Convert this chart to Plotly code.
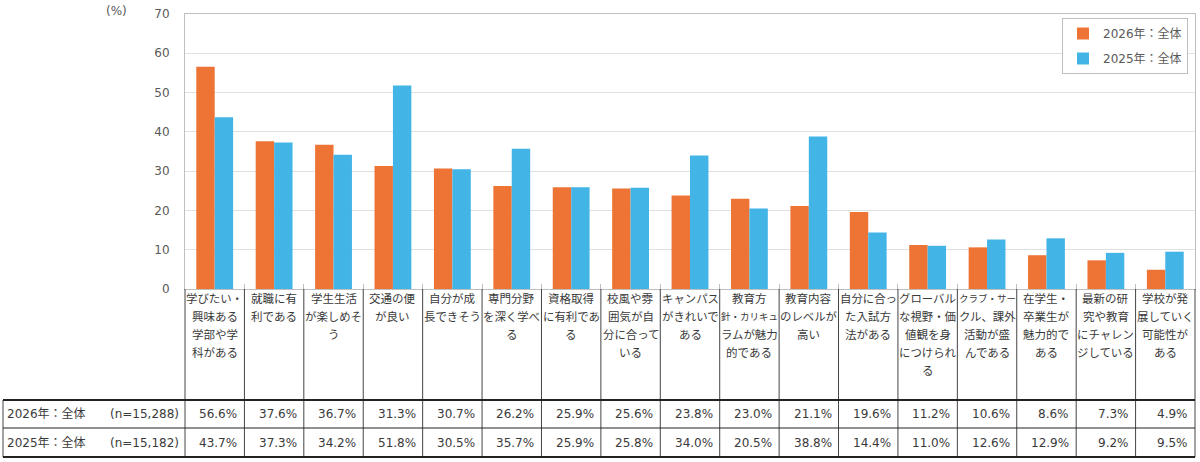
import plotly.graph_objects as go

# ---------------- data ----------------
labels_wrapped = [
    "学びたい・<br>興味ある<br>学部や学<br>科がある",
    "就職に有<br>利である",
    "学生生活<br>が楽しめそ<br>う",
    "交通の便<br>が良い",
    "自分が成<br>長できそう",
    "専門分野<br>を深く学べ<br>る",
    "資格取得<br>に有利であ<br>る",
    "校風や雰<br>囲気が自<br>分に合って<br>いる",
    "キャンパス<br>がきれいで<br>ある",
    "教育方<br>針・カリキュ<br>ラムが魅力<br>的である",
    "教育内容<br>のレベルが<br>高い",
    "自分に合っ<br>た入試方<br>法がある",
    "グローバル<br>な視野・価<br>値観を身<br>につけられ<br>る",
    "クラブ・サー<br>クル、課外<br>活動が盛<br>んである",
    "在学生・<br>卒業生が<br>魅力的で<br>ある",
    "最新の研<br>究や教育<br>にチャレン<br>ジしている",
    "学校が発<br>展していく<br>可能性が<br>ある",
]
categories = [s.replace("<br>", "") for s in labels_wrapped]

v2026 = [56.6, 37.6, 36.7, 31.3, 30.7, 26.2, 25.9, 25.6, 23.8, 23.0, 21.1, 19.6, 11.2, 10.6, 8.6, 7.3, 4.9]
v2025 = [43.7, 37.3, 34.2, 51.8, 30.5, 35.7, 25.9, 25.8, 34.0, 20.5, 38.8, 14.4, 11.0, 12.6, 12.9, 9.2, 9.5]
series_names = ["2026年：全体", "2025年：全体"]
n_labels = ["(n=15,288)", "(n=15,182)"]
y_ticks = [0, 10, 20, 30, 40, 50, 60, 70]

# ---------------- style ----------------
W, H = 1200, 462
L, R, T, B = 185, 5, 14, 173
PW, PH = W - L - R, H - T - B
FONT = "DejaVu Sans, Noto Sans CJK JP, sans-serif"
CJK = "Noto Sans CJK JP, sans-serif"
ORANGE = "#ED7434"
BLUE = "#43B4E6"
GREY = "#595959"
TXT = "#3a3a3a"
NCAT = len(categories)


def px_x(p):
    return (p - L) / PW


def px_y(p):
    return (H - B - p) / PH


fig = go.Figure()
fig.add_trace(go.Bar(x=list(range(NCAT)), y=v2026, name=series_names[0], legendgroup="a",
                     marker=dict(color=ORANGE, line=dict(width=0))))
fig.add_trace(go.Bar(x=list(range(NCAT)), y=v2025, name=series_names[1], legendgroup="b",
                     marker=dict(color=BLUE, line=dict(width=0))))

shapes = []
annotations = []

# column boundaries (paper) for the table
bounds = [k / NCAT for k in range(NCAT + 1)]
for k, bx in enumerate(bounds):
    shapes.append(dict(type="line", xref="paper", yref="paper", x0=bx, x1=bx,
                       y0=px_y(289), y1=px_y(457), line=dict(color="#444444", width=1)))
# left border of row labels
shapes.append(dict(type="line", xref="paper", yref="paper", x0=px_x(3), x1=px_x(3),
                   y0=px_y(400), y1=px_y(457), line=dict(color="#444444", width=1)))
# horizontal lines
for yy, wdt in [(400, 2), (428, 1), (457, 2)]:
    shapes.append(dict(type="line", xref="paper", yref="paper", x0=px_x(3), x1=1,
                       y0=px_y(yy), y1=px_y(yy), line=dict(color="#222222", width=wdt)))

# header labels (one annotation per line)
line_y = [298, 316, 334, 352, 370]
for i, lab in enumerate(labels_wrapped):
    for j, part in enumerate(lab.split("<br>")):
        size = min(11.5, 57.0 / len(part))
        annotations.append(dict(xref="x", yref="paper", x=i, y=px_y(line_y[j]),
                                text=part, showarrow=False, xanchor="center", yanchor="middle",
                                font=dict(family=CJK, size=size, color=TXT)))

# data rows
rows = [v2026, v2025]
row_y = [414, 443]
for r, vals in enumerate(rows):
    annotations.append(dict(xref="paper", yref="paper", x=px_x(5), y=px_y(row_y[r]),
                            text=series_names[r], showarrow=False, xanchor="left", yanchor="middle",
                            font=dict(family=FONT, size=12, color=TXT)))
    annotations.append(dict(xref="paper", yref="paper", x=px_x(181), y=px_y(row_y[r]),
                            text=n_labels[r], showarrow=False, xanchor="right", yanchor="middle",
                            font=dict(family=FONT, size=12, color=TXT)))
    for i, v in enumerate(vals):
        annotations.append(dict(xref="x", yref="paper", x=i + 0.5, xshift=-5, y=px_y(row_y[r]),
                                text=f"{v:.1f}%", showarrow=False, xanchor="right", yanchor="middle",
                                font=dict(family=FONT, size=12, color=TXT)))

# unit label
annotations.append(dict(xref="paper", yref="paper", x=px_x(116), y=px_y(11), text="(%)",
                        showarrow=False, xanchor="center", yanchor="middle",
                        font=dict(family=FONT, size=12, color=GREY)))

fig.update_layout(
    width=W, height=H, autosize=False,
    margin=dict(l=L, r=R, t=T, b=B, pad=0),
    paper_bgcolor="white", plot_bgcolor="white",
    barmode="group", bargap=0.38, bargroupgap=0,
    font=dict(family=FONT, size=12, color=GREY),
    showlegend=True,
    legend=dict(x=px_x(1188), xanchor="right", y=px_y(18), yanchor="top",
                bgcolor="white", bordercolor="#bfbfbf", borderwidth=1,
                font=dict(family=FONT, size=12, color=GREY), itemwidth=30,
                tracegroupgap=6),
    xaxis=dict(type="linear", range=[-0.5, NCAT - 0.5], showticklabels=False,
               tickvals=[k - 0.5 for k in range(NCAT + 1)], ticks="inside", ticklen=5,
               tickcolor="#bfbfbf",
               showgrid=False, zeroline=False, showline=True, mirror=True,
               linecolor="#bfbfbf", linewidth=1, fixedrange=True),
    yaxis=dict(range=[0, 70], tickvals=y_ticks, showgrid=True, gridcolor="#e0e0e0",
               zeroline=False, showline=True, mirror=True, linecolor="#bfbfbf",
               linewidth=1, ticks="", ticklabelstandoff=12,
               tickfont=dict(family=FONT, size=12, color=GREY)),
    shapes=shapes,
    annotations=annotations,
)

fig.write_html("out.html")
